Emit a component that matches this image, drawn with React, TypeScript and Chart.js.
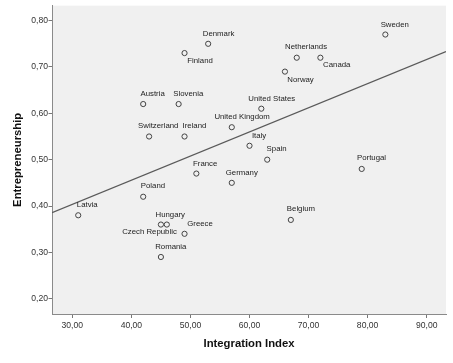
import React, { useEffect, useRef } from 'react';
import { Chart, registerables } from 'chart.js';

Chart.register(...registerables);

const countries = [
  'Denmark', 'Finland', 'Austria', 'Slovenia', 'Switzerland', 'Ireland', 'France',
  'Sweden', 'Netherlands', 'Canada', 'Norway', 'United States', 'United Kingdom',
  'Italy', 'Spain', 'Portugal', 'Germany', 'Belgium', 'Poland', 'Latvia',
  'Hungary', 'Czech Republic', 'Greece', 'Romania',
];
const integration = [
  53, 49, 42, 48, 43, 49, 51,
  83, 68, 72, 66, 62, 57,
  60, 63, 79, 57, 67, 42, 31,
  46, 45, 49, 45,
];
const entrepreneurship = [
  0.75, 0.73, 0.62, 0.62, 0.55, 0.55, 0.47,
  0.77, 0.72, 0.72, 0.69, 0.61, 0.57,
  0.53, 0.50, 0.48, 0.45, 0.37, 0.42, 0.38,
  0.36, 0.36, 0.34, 0.29,
];
const xTicks = [30, 40, 50, 60, 70, 80, 90];
const yTicks = [0.2, 0.3, 0.4, 0.5, 0.6, 0.7, 0.8];
const xTitle = 'Integration Index';
const yTitle = 'Entrepreneurship';

// label placement (text left edge / vertical middle relative to point), layout only
const labelOffsets: Record<string, [number, number]> = {
  'Denmark': [-5.4, -10.3],
  'Finland': [2.7, 7.6],
  'Austria': [-2.7, -10],
  'Slovenia': [-5.3, -10],
  'Switzerland': [-11, -10.4],
  'Ireland': [-2, -10.4],
  'France': [-3.3, -9.6],
  'Sweden': [-4.7, -10],
  'Netherlands': [-11.7, -10.6],
  'Canada': [2.7, 7],
  'Norway': [2.4, 8.3],
  'United States': [-13, -10],
  'United Kingdom': [-17.4, -10.3],
  'Italy': [2.4, -10],
  'Spain': [-0.6, -11],
  'Portugal': [-4.7, -10.7],
  'Germany': [-6, -10],
  'Belgium': [-4, -10.7],
  'Poland': [-2.4, -10.7],
  'Latvia': [-1.4, -10.3],
  'Hungary': [-11.3, -10],
  'Czech Republic': [-38.7, 7],
  'Greece': [2.7, -10],
  'Romania': [-5.7, -10],
};

const X_MIN = 26.56;
const X_MAX = 93.27;
const Y_MIN = 0.167;
const Y_MAX = 0.8323;

function regression(xs: number[], ys: number[]) {
  const n = xs.length;
  const mx = xs.reduce((a, b) => a + b, 0) / n;
  const my = ys.reduce((a, b) => a + b, 0) / n;
  let sxy = 0;
  let sxx = 0;
  for (let i = 0; i < n; i++) {
    sxy += (xs[i] - mx) * (ys[i] - my);
    sxx += (xs[i] - mx) * (xs[i] - mx);
  }
  const slope = sxy / sxx;
  return { slope, intercept: my - slope * mx };
}

const fmt = (v: number) => v.toFixed(2).replace('.', ',');

export default function App() {
  const ref = useRef<HTMLCanvasElement | null>(null);

  useEffect(() => {
    if (!ref.current) return;
    const { slope, intercept } = regression(integration, entrepreneurship);
    const fit = [X_MIN, X_MAX].map((x) => ({ x, y: intercept + slope * x }));

    const bgPlugin = {
      id: 'plotBg',
      beforeDraw(chart: any) {
        const { ctx, chartArea } = chart;
        ctx.save();
        ctx.fillStyle = '#f0f0f0';
        ctx.fillRect(chartArea.left, chartArea.top, chartArea.right - chartArea.left, chartArea.bottom - chartArea.top);
        ctx.restore();
      },
    };

    const labelPlugin = {
      id: 'pointLabels',
      afterDatasetsDraw(chart: any) {
        const { ctx } = chart;
        const meta = chart.getDatasetMeta(0);
        ctx.save();
        ctx.font = '7.8px "Liberation Sans", Arial, sans-serif';
        ctx.fillStyle = '#222';
        ctx.textAlign = 'left';
        ctx.textBaseline = 'middle';
        meta.data.forEach((el: any, i: number) => {
          const name = countries[i];
          const off = labelOffsets[name] || [0, -10];
          ctx.fillText(name, el.x + off[0], el.y + off[1]);
        });
        ctx.restore();
      },
    };

    const titlePlugin = {
      id: 'axisTitles',
      afterDraw(chart: any) {
        const { ctx, chartArea } = chart;
        ctx.save();
        ctx.fillStyle = '#111';
        ctx.font = 'bold 11.3px "Liberation Sans", Arial, sans-serif';
        ctx.textAlign = 'center';
        ctx.textBaseline = 'alphabetic';
        ctx.fillText(xTitle, (chartArea.left + chartArea.right) / 2, 346.7);
        ctx.translate(21, (chartArea.top + chartArea.bottom) / 2);
        ctx.rotate(-Math.PI / 2);
        ctx.fillText(yTitle, 0, 0);
        ctx.restore();
      },
    };

    const chart = new Chart(ref.current, {
      type: 'scatter',
      data: {
        datasets: [
          {
            type: 'scatter',
            data: integration.map((x, i) => ({ x, y: entrepreneurship[i] })),
            pointRadius: 2.6,
            pointHoverRadius: 2.6,
            pointBorderWidth: 1,
            borderColor: '#444',
            backgroundColor: 'rgba(0,0,0,0)',
            order: 1,
          },
          {
            type: 'line',
            data: fit,
            borderColor: '#5a5a5a',
            borderWidth: 1.4,
            pointRadius: 0,
            fill: false,
            order: 2,
          } as any,
        ],
      },
      options: {
        animation: false,
        responsive: false,
        maintainAspectRatio: false,
        devicePixelRatio: 1,
        layout: { padding: { top: 5, right: 7, left: 0, bottom: 0 } },
        plugins: { legend: { display: false }, tooltip: { enabled: false } },
        scales: {
          x: {
            type: 'linear',
            min: X_MIN,
            max: X_MAX,
            afterBuildTicks: (scale: any) => {
              scale.ticks = xTicks.map((value) => ({ value }));
            },
            afterFit: (scale: any) => {
              scale.height = 49;
            },
            ticks: {
              callback: (v: any) => fmt(Number(v)),
              font: { family: '"Liberation Sans", Arial, sans-serif', size: 8.6 },
              color: '#333',
              padding: 2,
              maxRotation: 0,
              autoSkip: false,
            },
            grid: { drawOnChartArea: false, drawTicks: true, tickLength: 4, color: '#777', lineWidth: 1 },
            border: { display: true, color: '#8a8a8a', width: 1 },
          },
          y: {
            type: 'linear',
            min: Y_MIN,
            max: Y_MAX,
            afterBuildTicks: (scale: any) => {
              scale.ticks = yTicks.map((value) => ({ value }));
            },
            afterFit: (scale: any) => {
              scale.width = 52;
            },
            ticks: {
              callback: (v: any) => fmt(Number(v)),
              font: { family: '"Liberation Sans", Arial, sans-serif', size: 8.6 },
              color: '#333',
              padding: 0.5,
              autoSkip: false,
            },
            grid: { drawOnChartArea: false, drawTicks: true, tickLength: 3.5, color: '#777', lineWidth: 1 },
            border: { display: true, color: '#8a8a8a', width: 1 },
          },
        },
      },
      plugins: [bgPlugin, labelPlugin, titlePlugin],
    } as any);

    return () => chart.destroy();
  }, []);

  return (
    <div style={{ position: 'fixed', left: 0, top: 0, width: 453, height: 363, background: '#fff' }}>
      <canvas ref={ref} width={453} height={363} style={{ width: 453, height: 363, display: 'block' }} />
    </div>
  );
}
